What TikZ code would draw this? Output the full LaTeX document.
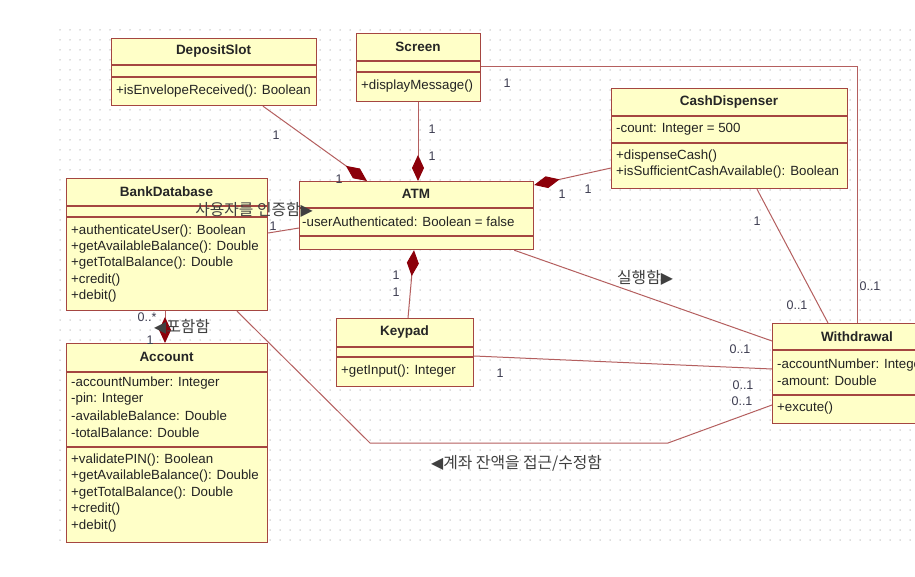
\documentclass[tikz,border=0pt]{standalone}
\usepackage{fontspec}
\setmainfont{Liberation Sans}
\newfontfamily\kr{Noto Sans CJK KR}
\newfontfamily\dv{DejaVu Sans}
\usetikzlibrary{arrows.meta,calc}
\definecolor{boxfill}{RGB}{255,255,200}
\definecolor{boxline}{RGB}{165,70,65}
\definecolor{conn}{RGB}{180,95,95}
\definecolor{dia}{RGB}{140,0,10}
\definecolor{txt}{RGB}{35,35,35}
\definecolor{mult}{RGB}{60,60,80}
\definecolor{dotc}{RGB}{190,190,190}
\newcommand\cmpt[3]{\draw[boxline,line width=1.2pt] ([yshift=-#2pt]#1.north west) -- ([yshift=-#2pt]#1.north east) ([yshift=-#3pt]#1.north west) -- ([yshift=-#3pt]#1.north east);}
\begin{document}
\begin{tikzpicture}[x=1pt,y=-1pt,
  cls/.style={draw=boxline, fill=boxfill, line width=1.2pt, rectangle, inner sep=0pt, anchor=north west},
  ttl/.style={font=\fontsize{13.5}{16}\selectfont\bfseries, text=black!85, inner sep=0pt},
  mem/.style={font=\fontsize{13.3}{16}\selectfont, text=txt, anchor=west, inner sep=0pt},
  mul/.style={font=\fontsize{12.5}{14}\selectfont, text=mult, inner sep=0pt},
  kor/.style={font=\kr\fontsize{15.8}{17}\selectfont, text=black!75, inner sep=0pt},
  assoc/.style={draw=conn, line width=1pt},
  comp/.style={assoc, -{Diamond[length=26pt,width=12pt,color=dia,fill=dia]}}]
\useasboundingbox (0,0) rectangle (915,577);
\clip (0,0) rectangle (915,577);
\fill[white] (0,0) rectangle (915,577);
\foreach \y in {30,40,...,540}
  \draw[dotc, line width=1.5pt, dash pattern=on 0pt off 10pt, line cap=round] (60,\y) -- (915,\y);

% classes
\node[cls, minimum width=205pt, minimum height=67pt] (ds) at (111,38) {};
\cmpt{ds}{27}{39}
\node[ttl] (dst) at (213.5,51) {DepositSlot};
\node[mem] (dsm) at (116,91) {+isEnvelopeReceived(): Boolean};

\node[cls, minimum width=124pt, minimum height=68pt] (scr) at (356,33) {};
\cmpt{scr}{28}{39}
\node[ttl] (scrt) at (418,47) {Screen};
\node[mem] (scrm) at (361,86) {+displayMessage()};

\node[cls, minimum width=236pt, minimum height=100pt] (cd) at (611,88) {};
\cmpt{cd}{28}{55}
\node[ttl] (cdt) at (729,102) {CashDispenser};
\node[mem] (cda) at (616,129) {-count: Integer = 500};
\node[mem] (cdm1) at (616,156) {+dispenseCash()};
\node[mem] (cdm2) at (616,172) {+isSufficientCashAvailable(): Boolean};

\node[cls, minimum width=201pt, minimum height=132pt] (bd) at (66,178) {};
\cmpt{bd}{28}{39}
\node[ttl] (bdt) at (166.5,192) {BankDatabase};
\foreach \t [count=\i from 0] in {+authenticateUser(): Boolean, +getAvailableBalance(): Double, +getTotalBalance(): Double, +credit(), +debit()}
  \node[mem] (bdm\i) at (71,231+16.2*\i) {\t};

\node[cls, minimum width=234pt, minimum height=68pt] (atm) at (299,181) {};
\cmpt{atm}{27}{55}
\node[ttl] (atmt) at (416,194) {ATM};
\node[mem] (atma) at (302,222) {-userAuthenticated: Boolean = false};

\node[cls, minimum width=137pt, minimum height=68pt] (kp) at (336,318) {};
\cmpt{kp}{29}{39}
\node[ttl] (kpt) at (404.5,332) {Keypad};
\node[mem] (kpm) at (341,371) {+getInput(): Integer};

\node[cls, minimum width=201pt, minimum height=199pt] (acc) at (66,343) {};
\cmpt{acc}{29}{104}
\node[ttl] (acct) at (166.5,357) {Account};
\foreach \t [count=\i from 0] in {-accountNumber: Integer, -pin: Integer, -availableBalance: Double, -totalBalance: Double}
  \node[mem] (acca\i) at (71,383+16.5*\i) {\t};
\foreach \t [count=\i from 0] in {+validatePIN(): Boolean, +getAvailableBalance(): Double, +getTotalBalance(): Double, +credit(), +debit()}
  \node[mem] (accm\i) at (71,460+16.5*\i) {\t};

\node[cls, minimum width=175pt, minimum height=100pt] (wd) at (772,323) {};
\cmpt{wd}{27}{72}
\node[ttl] (wdt) at (857,337) {Withdrawal};
\node[mem] (wda1) at (777,365) {-accountNumber: Integer};
\node[mem] (wda2) at (777,381) {-amount: Double};
\node[mem] (wdm) at (777,408) {+excute()};

% associations
\draw[assoc] ([yshift=-34pt]scr.north east) -| ([xshift=85pt]wd.north west);
\draw[assoc] ([xshift=146pt]cd.south west) -- ([xshift=56pt]wd.north west);
\draw[assoc] ([xshift=-20pt]atm.south east) -- ([yshift=-18pt]wd.north west);
\draw[assoc] ([yshift=-38pt]kp.north east) -- ([yshift=-46pt]wd.north west);
\coordinate (bend1) at (370,443);
\coordinate (bend2) at (668,443);
\draw[assoc] ([xshift=171pt]bd.south west) -- (bend1) -- (bend2) -- ([yshift=-82pt]wd.north west);
\draw[assoc] ([yshift=-55pt]bd.north east) -- ([yshift=-47pt]atm.north west);

% compositions (diamond on the whole)
\draw[comp] ([xshift=152pt]ds.south west) -- ([xshift=68pt]atm.north west);
\draw[comp] ([xshift=62pt]scr.south west) -- ([xshift=119pt]atm.north west);
\draw[comp] ([yshift=-80pt]cd.north west) -- ([yshift=-4pt]atm.north east);
\draw[comp] ([xshift=72pt]kp.north west) -- ([xshift=115pt]atm.south west);
\draw[comp] ([xshift=99pt]bd.south west) -- ([xshift=99pt]acc.north west);

% multiplicities
\node[mul] (m1) at (276,135) {1};
\node[mul] (m2) at (339,179) {1};
\node[mul] (m3) at (432,129) {1};
\node[mul] (m4) at (432,156) {1};
\node[mul] (m5) at (562,194) {1};
\node[mul] (m6) at (588,189) {1};
\node[mul] (m7) at (396,275) {1};
\node[mul] (m8) at (396,292) {1};
\node[mul] (m9) at (273,226) {1};
\node[mul] (m10) at (507,83) {1};
\node[mul] (m11) at (870,286) {0..1};
\node[mul] (m12) at (757,221) {1};
\node[mul] (m13) at (797,305) {0..1};
\node[mul] (m14) at (740,349) {0..1};
\node[mul] (m15) at (500,373) {1};
\node[mul] (m16) at (743,385) {0..1};
\node[mul] (m17) at (742,401) {0..1};
\node[mul] (m18) at (147,317) {0..*};
\node[mul] (m19) at (150,340) {1};

% association names
\node[kor, anchor=east] (l1) at (313,210) {사용자를 인증함{\dv ▶}};
\node[kor, anchor=west] (l2) at (617,278) {실행함{\dv ▶}};
\node[kor, anchor=west] (l3) at (431,463) {{\dv ◀}계좌 잔액을 접근/수정함};
\node[kor, anchor=west] (l4) at (154,327) {{\dv ◀}포함함};
\end{tikzpicture}
\end{document}
